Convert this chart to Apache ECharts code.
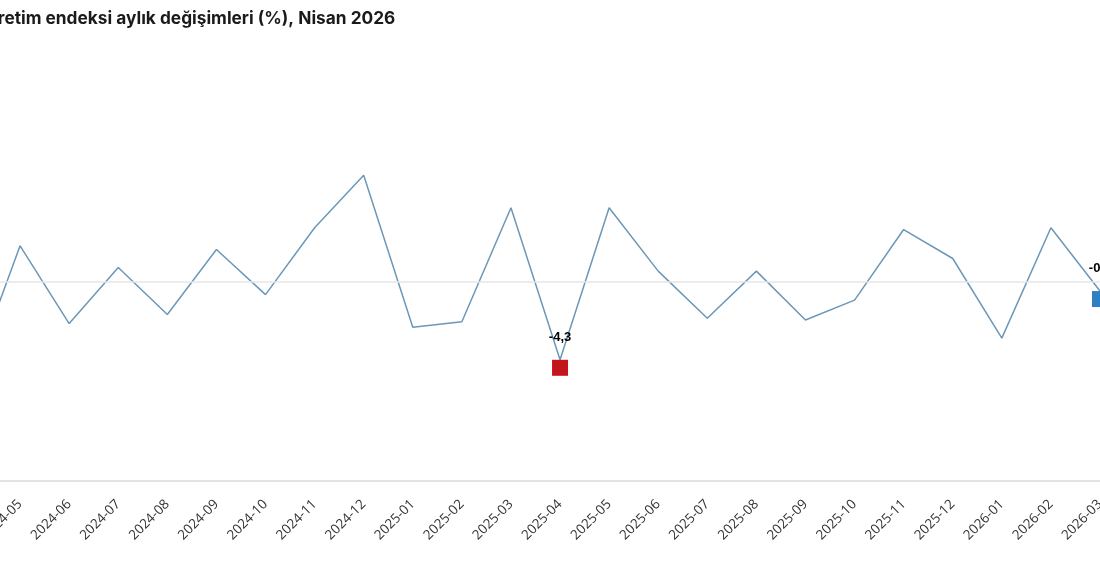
<!DOCTYPE html>
<html>
<head>
<meta charset="utf-8">
<script src="https://cdn.jsdelivr.net/npm/echarts@6/dist/echarts.min.js"></script>
<style>
  html, body { margin: 0; padding: 0; background: #fff; overflow: hidden; width: 1100px; height: 571px; }
  #chart { position: absolute; left: -100px; top: 0; width: 1300px; height: 571px; }
</style>
</head>
<body>
<div id="chart"></div>
<script>
// aylar ve aylik degisimler (%)
var months = ['2024-04', '2024-05', '2024-06', '2024-07', '2024-08', '2024-09', '2024-10', '2024-11', '2024-12',
  '2025-01', '2025-02', '2025-03', '2025-04', '2025-05', '2025-06', '2025-07', '2025-08', '2025-09', '2025-10',
  '2025-11', '2025-12', '2026-01', '2026-02', '2026-03'];
var changes = [-5.4, 2.0, -2.3, 0.8, -1.8, 1.8, -0.7, 3.0, 5.9,
  -2.5, -2.2, 4.1, -4.3, 4.1, 0.6, -2.0, 0.6, -2.1, -1.0,
  2.9, 1.3, -3.1, 3.0, -0.5];
// vurgulanan noktalar
var highlightMonths = ['2025-04', '2026-03'];
var highlightColors = ['#c1161c', '#2f7fc1'];

var myChart = echarts.init(document.getElementById('chart'));

var seriesData = changes.map(function (v, i) {
  var h = highlightMonths.indexOf(months[i]);
  if (h < 0) return v;
  return {
    value: v,
    symbol: 'rect',
    symbolSize: 16,
    symbolOffset: [0, 8],
    itemStyle: { color: highlightColors[h] },
    label: {
      show: true,
      position: 'top',
      distance: 16,
      formatter: function (p) { return String(p.value).replace('.', ','); },
      color: '#000',
      fontWeight: 'bold',
      fontSize: 13,
      fontFamily: 'Liberation Sans'
    }
  };
});

var option = {
  animation: false,
  title: {
    text: 'Sanayi üretim endeksi aylık değişimleri (%), Nisan 2026',
    left: 21,
    top: 5,
    textStyle: { fontFamily: 'Inter', fontSize: 17.3, fontWeight: 'bold', color: '#1a1a1a' }
  },
  grid: { left: 71, right: 100, top: 83, bottom: 90 },
  xAxis: {
    type: 'category',
    data: months,
    boundaryGap: false,
    axisLine: { onZero: false, lineStyle: { color: '#e3e3e3', width: 2 } },
    axisTick: { show: false },
    axisLabel: { rotate: 45, margin: 21, fontSize: 13.5, color: '#333', fontFamily: 'Open Sans', interval: 0 }
  },
  yAxis: {
    type: 'value',
    min: -11,
    max: 11,
    show: false
  },
  series: [{
    type: 'line',
    data: seriesData,
    symbol: 'none',
    lineStyle: { color: '#6b97b8', width: 1.5 },
    markLine: {
      silent: true,
      symbol: 'none',
      label: { show: false },
      lineStyle: { color: '#e6e6e6', type: 'solid', width: 1.5 },
      data: [{ yAxis: 0 }]
    }
  }]
};
myChart.setOption(option);
</script>
</body>
</html>
